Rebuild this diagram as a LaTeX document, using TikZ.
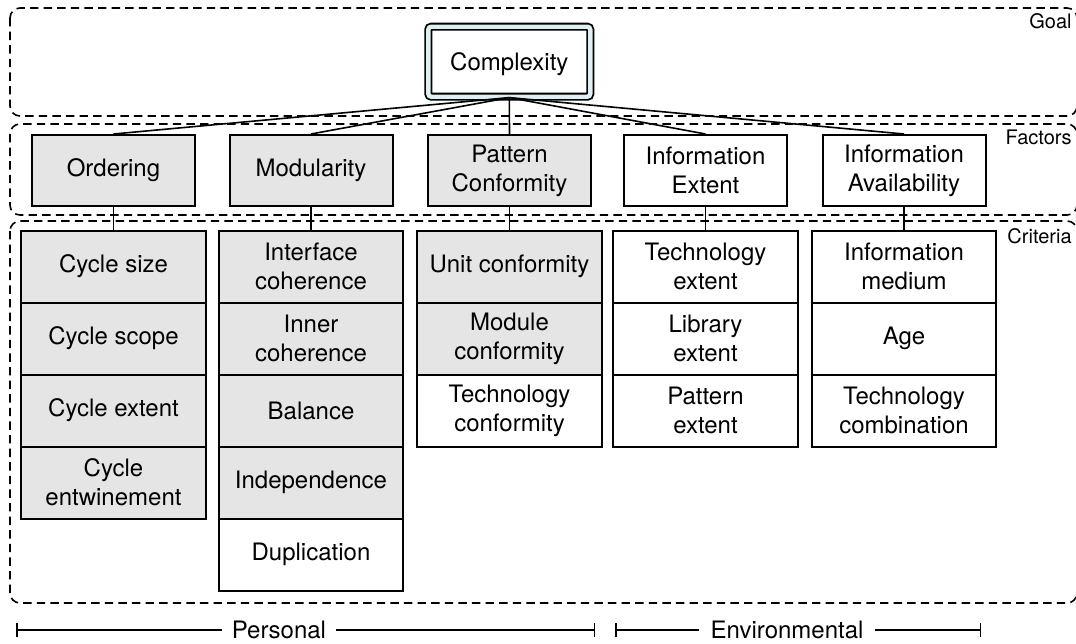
\documentclass[tikz,border=0pt]{standalone}
\usepackage{fontspec}
\setmainfont{TeX Gyre Heros}
\usepackage{xcolor}
\usetikzlibrary{positioning,arrows.meta}

\definecolor{boxgray}{gray}{0.9}
\definecolor{ringcyan}{RGB}{222,240,242}

\tikzset{
  layer/.style={draw, dash pattern=on 4.2pt off 2.6pt, line width=0.8pt, rounded corners=5pt},
  layerlabel/.style={anchor=east, inner sep=0pt, font=\fontsize{10}{12}\selectfont},
  factor/.style={draw, line width=1pt, minimum width=81.5pt, minimum height=35.5pt, align=center, inner sep=2pt},
  cell/.style={draw, line width=1pt, minimum width=92.25pt, minimum height=36pt, align=center, inner sep=2pt, outer sep=0pt},
  shaded/.style={fill=boxgray},
  link/.style={line width=0.8pt},
  span/.style={line width=0.75pt, {Bar[width=7pt]}-{Bar[width=7pt]}},
  spanlabel/.style={fill=white, inner xsep=5pt, inner ysep=1pt},
}

\begin{document}
\begin{tikzpicture}[x=0.5pt, y=-0.5pt, font=\fontsize{12}{14.4}\selectfont, node distance=0pt]
  \useasboundingbox (0,0) rectangle (1076,643);

  % layers
  \draw[layer] (10,8) rectangle (1077,116);
  \draw[layer] (10,124) rectangle (1077,215);
  \draw[layer] (10,221) rectangle (1077,603);
  \node[layerlabel] (lgoal) at (1072,21.5) {Goal};
  \node[layerlabel] (lfac) at (1072,137.5) {Factors};
  \node[layerlabel] (lcrit) at (1072,236.5) {Criteria};

  % goal
  \node[draw, line width=0.9pt, double=ringcyan, double distance=2.2pt, rounded corners=1.5pt,
        minimum width=81pt, minimum height=35pt, text depth=0pt] (cx) at (509.3,61.7) {Complexity};

  % factors
  \node[factor, shaded] (ord) at (113.5,170.5) {Ordering};
  \node[factor, shaded] (mod) at (311,170.5) {Modularity};
  \node[factor, shaded] (pat) at (509.5,170.5) {Pattern\\Conformity};
  \node[factor] (iext) at (705.5,170.5) {Information\\Extent};
  \node[factor] (iavl) at (904,170.5) {Information\\Availability};

  \foreach \f in {ord,mod,pat,iext,iavl}
    \draw[link] (cx.south) -- (\f.north);

  % criteria
  \node[cell, shaded, anchor=north] (ord1) at (113.5,230.5) {Cycle size};
  \node[cell, shaded, below=of ord1] (ord2) {Cycle scope};
  \node[cell, shaded, below=of ord2] (ord3) {Cycle extent};
  \node[cell, shaded, below=of ord3] (ord4) {Cycle\\entwinement};

  \node[cell, shaded, anchor=north] (mod1) at (311,230.5) {Interface\\coherence};
  \node[cell, shaded, below=of mod1] (mod2) {Inner\\coherence};
  \node[cell, shaded, below=of mod2] (mod3) {Balance};
  \node[cell, shaded, below=of mod3] (mod4) {Independence};
  \node[cell, below=of mod4] (mod5) {Duplication};

  \node[cell, shaded, anchor=north] (pat1) at (509.5,230.5) {Unit conformity};
  \node[cell, shaded, below=of pat1] (pat2) {Module\\conformity};
  \node[cell, below=of pat2] (pat3) {Technology\\conformity};

  \node[cell, anchor=north] (iext1) at (705.5,230.5) {Technology\\extent};
  \node[cell, below=of iext1] (iext2) {Library\\extent};
  \node[cell, below=of iext2] (iext3) {Pattern\\extent};

  \node[cell, anchor=north] (iavl1) at (904,230.5) {Information\\medium};
  \node[cell, below=of iavl1] (iavl2) {Age};
  \node[cell, below=of iavl2] (iavl3) {Technology\\combination};

  \foreach \f in {ord,mod,pat,iext,iavl}
    \draw[link] (\f.south) -- (\f1.north);

  % spans
  \coordinate (pers0) at (16,630);
  \coordinate (pers1) at (595,630);
  \coordinate (env0) at (615,630);
  \coordinate (env1) at (981,630);
  \draw[span] (pers0) -- (pers1);
  \draw[span] (env0) -- (env1);
  \node[spanlabel] (pers) at (279,630) {Personal};
  \node[spanlabel, inner xsep=6pt] (env) at (787,630) {Environmental};
\end{tikzpicture}
\end{document}
